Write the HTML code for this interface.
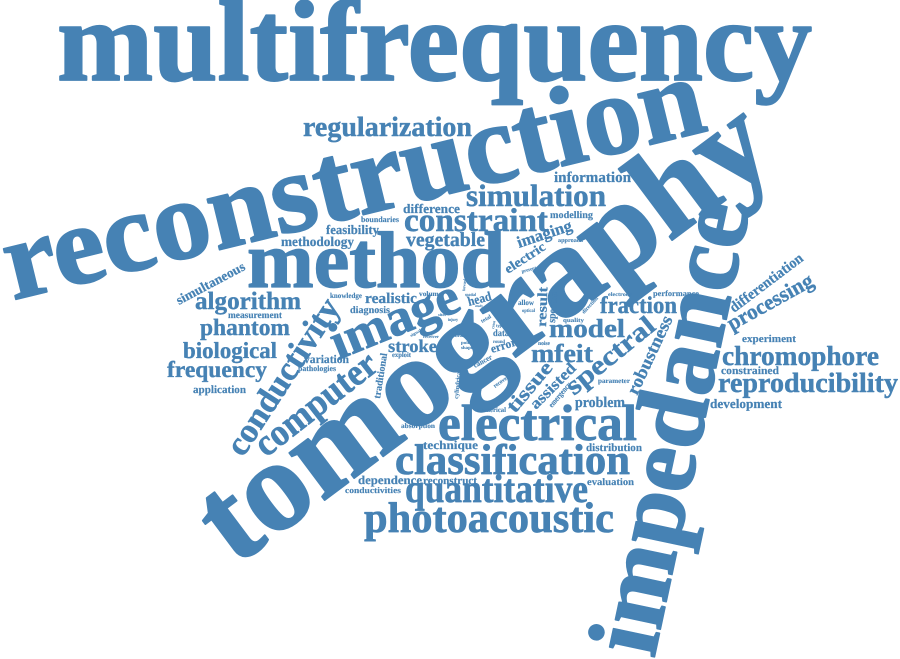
<!DOCTYPE html>
<html lang="en">
<head>
<meta charset="utf-8">
<title>Word cloud</title>
<style>
html,body{margin:0;padding:0;background:#fff;width:900px;height:659px;overflow:hidden}
svg{display:block}
text{font-family:"Liberation Serif",serif;font-weight:bold;fill:#4682b4;stroke:#4682b4;stroke-width:.016em;stroke-linejoin:round}
</style>
</head>
<body>
<svg xmlns="http://www.w3.org/2000/svg" width="900" height="659" viewBox="0 0 900 659" text-rendering="geometricPrecision">
<text x="57" y="80" font-size="115" textLength="755" lengthAdjust="spacingAndGlyphs">multifrequency</text>
<text transform="translate(13 300) rotate(-13.7)" font-size="113" textLength="717" lengthAdjust="spacingAndGlyphs">reconstruction</text>
<text transform="translate(235 567) rotate(-36.8)" font-size="128" textLength="680" lengthAdjust="spacingAndGlyphs">tomography</text>
<text transform="translate(654 659) rotate(-78)" font-size="100" textLength="460" lengthAdjust="spacingAndGlyphs">impedance</text>
<text x="247" y="287" font-size="80" textLength="258" lengthAdjust="spacingAndGlyphs">method</text>
<text x="303" y="136" font-size="28" textLength="169" lengthAdjust="spacingAndGlyphs">regularization</text>
<text x="554" y="182" font-size="15" textLength="77" lengthAdjust="spacingAndGlyphs">information</text>
<text x="466" y="206" font-size="31" textLength="140" lengthAdjust="spacingAndGlyphs">simulation</text>
<text x="403" y="213" font-size="13" textLength="57" lengthAdjust="spacingAndGlyphs">difference</text>
<text x="550" y="218" font-size="10" textLength="43" lengthAdjust="spacingAndGlyphs">modelling</text>
<text x="361" y="222" font-size="8" textLength="38" lengthAdjust="spacingAndGlyphs">boundaries</text>
<text x="404" y="231" font-size="33" textLength="144" lengthAdjust="spacingAndGlyphs">constraint</text>
<text x="326" y="234" font-size="13" textLength="53" lengthAdjust="spacingAndGlyphs">feasibility</text>
<text x="281" y="246" font-size="13.5" textLength="73" lengthAdjust="spacingAndGlyphs">methodology</text>
<text x="406" y="246" font-size="20" textLength="79" lengthAdjust="spacingAndGlyphs">vegetable</text>
<text transform="translate(519 248) rotate(-18.5)" font-size="16.5" textLength="57" lengthAdjust="spacingAndGlyphs">imaging</text>
<text x="558" y="242" font-size="6" textLength="25" lengthAdjust="spacingAndGlyphs">approach</text>
<text transform="translate(508 274) rotate(-33)" font-size="13.5" textLength="46" lengthAdjust="spacingAndGlyphs">electric</text>
<text transform="translate(522 273) rotate(-15)" font-size="5" textLength="15" lengthAdjust="spacingAndGlyphs">present</text>
<text transform="translate(179 305) rotate(-28)" font-size="13.5" textLength="76" lengthAdjust="spacingAndGlyphs">simultaneous</text>
<text x="195" y="309" font-size="25" textLength="106" lengthAdjust="spacingAndGlyphs">algorithm</text>
<text x="228" y="318" font-size="9.5" textLength="54" lengthAdjust="spacingAndGlyphs">measurement</text>
<text x="200" y="335" font-size="23.5" textLength="90" lengthAdjust="spacingAndGlyphs">phantom</text>
<text x="183" y="358" font-size="23" textLength="94" lengthAdjust="spacingAndGlyphs">biological</text>
<text x="167" y="377" font-size="23" textLength="100" lengthAdjust="spacingAndGlyphs">frequency</text>
<text x="193" y="393" font-size="11" textLength="53" lengthAdjust="spacingAndGlyphs">application</text>
<text x="304" y="363" font-size="11.7" textLength="45" lengthAdjust="spacingAndGlyphs">variation</text>
<text x="298" y="371" font-size="8" textLength="38" lengthAdjust="spacingAndGlyphs">pathologies</text>
<text x="330" y="298" font-size="7.5" textLength="32" lengthAdjust="spacingAndGlyphs">knowledge</text>
<text x="365" y="303" font-size="15" textLength="52" lengthAdjust="spacingAndGlyphs">realistic</text>
<text x="350" y="313" font-size="10" textLength="40" lengthAdjust="spacingAndGlyphs">diagnosis</text>
<text x="419" y="296" font-size="7" textLength="23" lengthAdjust="spacingAndGlyphs">volume</text>
<text transform="translate(243 458) rotate(-57)" font-size="34" textLength="180" lengthAdjust="spacingAndGlyphs">conductivity</text>
<text transform="translate(266 458) rotate(-38)" font-size="38" textLength="145" lengthAdjust="spacingAndGlyphs">computer</text>
<text transform="translate(338 360) rotate(-22)" font-size="52" textLength="135" lengthAdjust="spacingAndGlyphs">image</text>
<text transform="translate(380 399) rotate(-81)" font-size="10" textLength="46" lengthAdjust="spacingAndGlyphs">traditional</text>
<text x="392" y="357" font-size="7" textLength="19" lengthAdjust="spacingAndGlyphs">exploit</text>
<text x="388" y="352" font-size="18" textLength="49" lengthAdjust="spacingAndGlyphs">stroke</text>
<text x="423" y="338" font-size="4.5" textLength="16" lengthAdjust="spacingAndGlyphs">receiver</text>
<text transform="translate(411 337) rotate(-30)" font-size="4" textLength="12" lengthAdjust="spacingAndGlyphs">signal</text>
<text x="438" y="316" font-size="4" textLength="8" lengthAdjust="spacingAndGlyphs">sites</text>
<text x="448" y="321" font-size="4.5" textLength="10" lengthAdjust="spacingAndGlyphs">injury</text>
<text x="465" y="296" font-size="4.5" textLength="11" lengthAdjust="spacingAndGlyphs">spatial</text>
<text transform="translate(465 291) rotate(-85)" font-size="4" textLength="12" lengthAdjust="spacingAndGlyphs">forward</text>
<text transform="translate(469 306) rotate(-15)" font-size="13" textLength="24" lengthAdjust="spacingAndGlyphs">head</text>
<text x="475" y="307" font-size="3.5" textLength="8" lengthAdjust="spacingAndGlyphs">study</text>
<text transform="translate(482 323) rotate(-30)" font-size="5.5" textLength="11" lengthAdjust="spacingAndGlyphs">total</text>
<text transform="translate(494 329) rotate(-80)" font-size="4" textLength="8" lengthAdjust="spacingAndGlyphs">cross</text>
<text x="496" y="327" font-size="4.5" textLength="8" lengthAdjust="spacingAndGlyphs">type</text>
<text x="493" y="336" font-size="9.5" textLength="16" lengthAdjust="spacingAndGlyphs">data</text>
<text x="493" y="343" font-size="5" textLength="12" lengthAdjust="spacingAndGlyphs">round</text>
<text transform="translate(492 353) rotate(-17)" font-size="12" textLength="26" lengthAdjust="spacingAndGlyphs">error</text>
<text x="455" y="337" font-size="4.5" textLength="12" lengthAdjust="spacingAndGlyphs">brain</text>
<text x="461" y="344" font-size="4.5" textLength="11" lengthAdjust="spacingAndGlyphs">point</text>
<text x="461" y="349" font-size="4.5" textLength="12" lengthAdjust="spacingAndGlyphs">shape</text>
<text transform="translate(475 368) rotate(-28)" font-size="7.5" textLength="20" lengthAdjust="spacingAndGlyphs">cancer</text>
<text transform="translate(495 388) rotate(-35)" font-size="6" textLength="20" lengthAdjust="spacingAndGlyphs">recovery</text>
<text transform="translate(458 399) rotate(-85)" font-size="6" textLength="29" lengthAdjust="spacingAndGlyphs">cylindrical</text>
<text x="477" y="412" font-size="7" textLength="29" lengthAdjust="spacingAndGlyphs">numerical</text>
<text x="518" y="305" font-size="7.5" textLength="16" lengthAdjust="spacingAndGlyphs">allow</text>
<text x="522" y="312" font-size="5" textLength="13" lengthAdjust="spacingAndGlyphs">optical</text>
<text transform="translate(546 327) rotate(-88)" font-size="14" textLength="40" lengthAdjust="spacingAndGlyphs">result</text>
<text transform="translate(555 323) rotate(-86)" font-size="11" textLength="31" lengthAdjust="spacingAndGlyphs">spectra</text>
<text transform="translate(584 314) rotate(-47)" font-size="5.5" textLength="21" lengthAdjust="spacingAndGlyphs">direction</text>
<text x="608" y="296" font-size="5.5" textLength="24" lengthAdjust="spacingAndGlyphs">electrode</text>
<text x="653" y="296" font-size="8" textLength="46" lengthAdjust="spacingAndGlyphs">performance</text>
<text x="600" y="313" font-size="24" textLength="77" lengthAdjust="spacingAndGlyphs">fraction</text>
<text x="563" y="322" font-size="6" textLength="21" lengthAdjust="spacingAndGlyphs">quality</text>
<text x="549" y="337" font-size="26" textLength="76" lengthAdjust="spacingAndGlyphs">model</text>
<text x="538" y="345" font-size="6" textLength="12" lengthAdjust="spacingAndGlyphs">noise</text>
<text x="531" y="362" font-size="26" textLength="62" lengthAdjust="spacingAndGlyphs">mfeit</text>
<text transform="translate(574 396) rotate(-39)" font-size="27" textLength="107" lengthAdjust="spacingAndGlyphs">spectral</text>
<text transform="translate(637 396) rotate(-65)" font-size="18" textLength="85" lengthAdjust="spacingAndGlyphs">robustness</text>
<text x="598" y="383" font-size="7" textLength="32" lengthAdjust="spacingAndGlyphs">parameter</text>
<text x="575" y="407" font-size="15" textLength="50" lengthAdjust="spacingAndGlyphs">problem</text>
<text transform="translate(515 414) rotate(-50)" font-size="20" textLength="60" lengthAdjust="spacingAndGlyphs">tissue</text>
<text transform="translate(536 410) rotate(-45)" font-size="16" textLength="58" lengthAdjust="spacingAndGlyphs">assisted</text>
<text transform="translate(552 408) rotate(-50)" font-size="8" textLength="30" lengthAdjust="spacingAndGlyphs">emergency</text>
<text x="401" y="428" font-size="7" textLength="34" lengthAdjust="spacingAndGlyphs">absorption</text>
<text x="438" y="440" font-size="51" textLength="199" lengthAdjust="spacingAndGlyphs">electrical</text>
<text x="423" y="449" font-size="12" textLength="55" lengthAdjust="spacingAndGlyphs">technique</text>
<text x="586" y="451" font-size="11" textLength="56" lengthAdjust="spacingAndGlyphs">distribution</text>
<text x="395" y="474" font-size="43" textLength="235" lengthAdjust="spacingAndGlyphs">classification</text>
<text x="358" y="484" font-size="12" textLength="64" lengthAdjust="spacingAndGlyphs">dependence</text>
<text x="423" y="484" font-size="11" textLength="54" lengthAdjust="spacingAndGlyphs">reconstruct</text>
<text x="587" y="485" font-size="10" textLength="47" lengthAdjust="spacingAndGlyphs">evaluation</text>
<text x="345" y="493" font-size="8.5" textLength="56" lengthAdjust="spacingAndGlyphs">conductivities</text>
<text x="405" y="502" font-size="40" textLength="183" lengthAdjust="spacingAndGlyphs">quantitative</text>
<text x="364" y="532" font-size="43" textLength="250" lengthAdjust="spacingAndGlyphs">photoacoustic</text>
<text x="742" y="342" font-size="10.5" textLength="54" lengthAdjust="spacingAndGlyphs">experiment</text>
<text x="722" y="365" font-size="27.5" textLength="157" lengthAdjust="spacingAndGlyphs">chromophore</text>
<text x="721" y="374" font-size="11" textLength="58" lengthAdjust="spacingAndGlyphs">constrained</text>
<text x="718" y="392" font-size="28" textLength="180" lengthAdjust="spacingAndGlyphs">reproducibility</text>
<text x="710" y="408" font-size="13" textLength="72" lengthAdjust="spacingAndGlyphs">development</text>
<text transform="translate(732 331) rotate(-29)" font-size="22" textLength="95" lengthAdjust="spacingAndGlyphs">processing</text>
<text transform="translate(734 313) rotate(-37)" font-size="15" textLength="88" lengthAdjust="spacingAndGlyphs">differentiation</text>
</svg>
</body>
</html>
